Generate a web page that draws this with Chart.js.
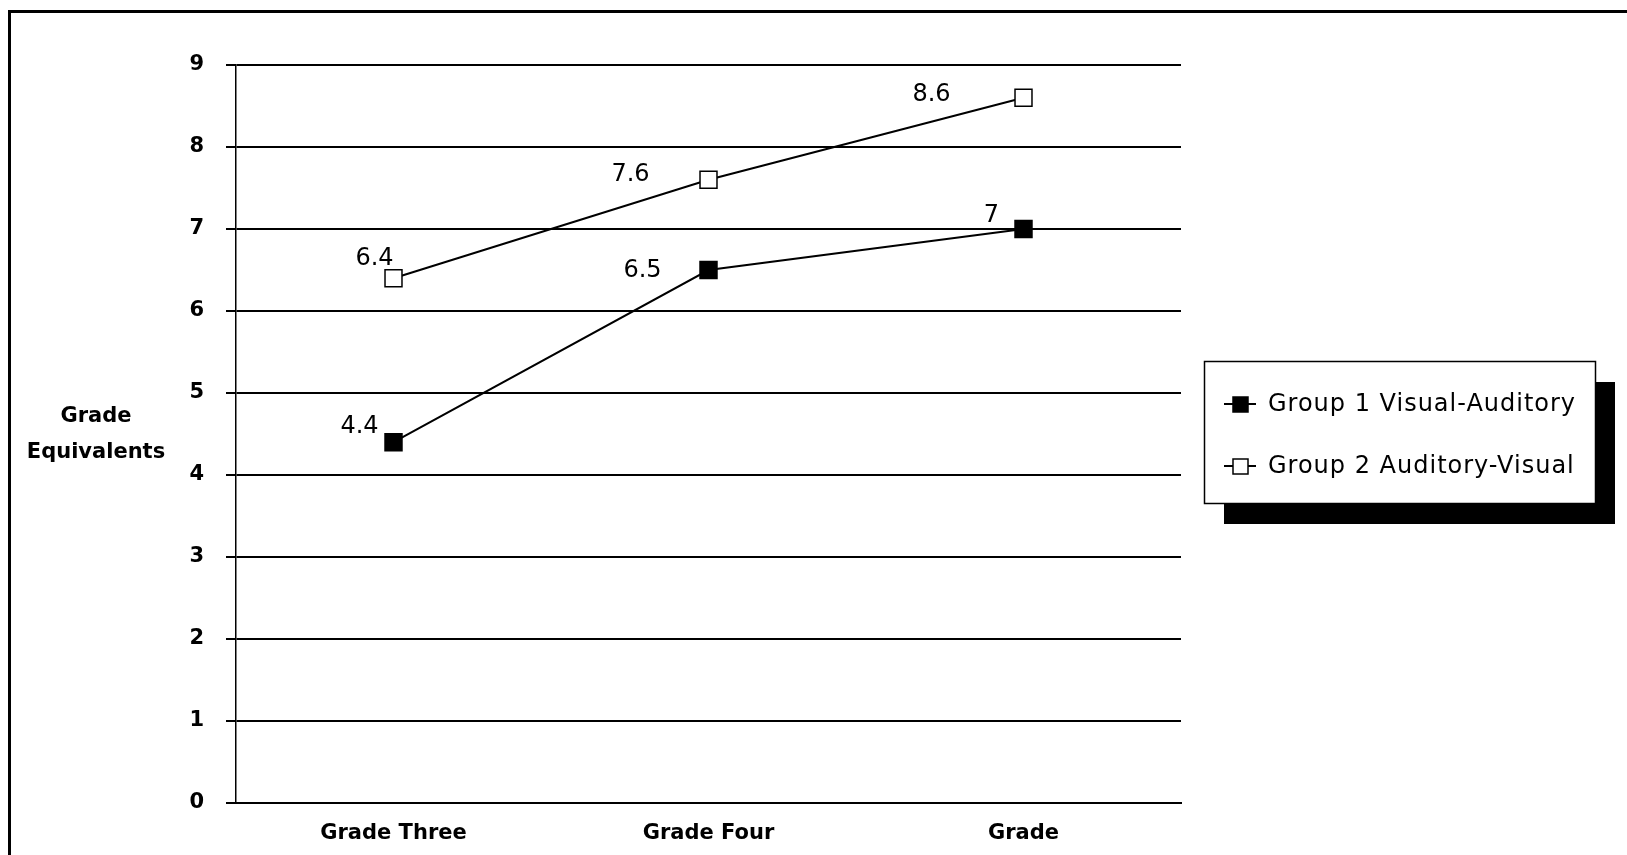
<!DOCTYPE html>
<html>
<head>
<meta charset="utf-8">
<script src="https://cdn.jsdelivr.net/npm/chart.js@4/dist/chart.umd.min.js"></script>
<style>
  html, body { margin: 0; padding: 0; background: #fff; }
  #wrap { position: relative; width: 1627px; height: 855px; }
  canvas { display: block; }
</style>
</head>
<body>
<div id="wrap"><canvas id="c" width="1627" height="855"></canvas></div>
<script>
const categories = ["Grade Three", "Grade Four", "Grade"];
const group1Values = [4.4, 6.5, 7];
const group2Values = [6.4, 7.6, 8.6];
const seriesNames = ["Group 1 Visual-Auditory", "Group 2 Auditory-Visual"];
const yTicks = [0, 1, 2, 3, 4, 5, 6, 7, 8, 9];
const yTitleLines = ["Grade", "Equivalents"];

// label placement (style only): offsets of value labels from their points
const labelOffsets = [
  [[-34, -15], [-66, 1], [-32, -13]],
  [[-19, -19], [-78, -5], [-92, -3]]
];

const boxPlugin = {
  id: 'decor',
  beforeDraw(chart) {
    const ctx = chart.ctx;
    ctx.save();
    ctx.fillStyle = '#fff';
    ctx.fillRect(0, 0, chart.width, chart.height);
    ctx.strokeStyle = '#000';
    ctx.lineWidth = 3;
    ctx.strokeRect(9.5, 11.5, 1700, 900);
    ctx.restore();
  },
  afterDraw(chart) {
    const ctx = chart.ctx;
    ctx.save();
    // y title
    ctx.fillStyle = '#000';
    ctx.font = 'bold 21px "DejaVu Sans", sans-serif';
    ctx.textAlign = 'center';
    ctx.textBaseline = 'middle';
    ctx.fillText(yTitleLines[0], 96, 417);
    ctx.fillText(yTitleLines[1], 96, 453);

    // value labels
    ctx.font = '24px "DejaVu Sans", sans-serif';
    chart.data.datasets.forEach((ds, di) => {
      const meta = chart.getDatasetMeta(di);
      meta.data.forEach((pt, i) => {
        const off = labelOffsets[di][i];
        ctx.fillText(String(ds.data[i]), pt.x + off[0], pt.y + off[1]);
      });
    });

    // legend with shadow
    const L = 1204, T = 361, R = 1595, B = 503;
    ctx.fillStyle = '#000';
    ctx.fillRect(L + 20, T + 21, R - L, B - T);
    ctx.fillStyle = '#fff';
    ctx.fillRect(L, T, R - L, B - T);
    ctx.strokeStyle = '#000';
    ctx.lineWidth = 1.5;
    ctx.strokeRect(L + 0.5, T + 0.5, R - L, B - T);
    const ys = [404, 466];
    ctx.font = '24px "DejaVu Sans", sans-serif';
    try { ctx.letterSpacing = '1px'; } catch (e) {}
    ctx.textAlign = 'left';
    chart.data.datasets.forEach((ds, di) => {
      const y = ys[di];
      ctx.strokeStyle = '#000';
      ctx.lineWidth = 2;
      ctx.beginPath();
      ctx.moveTo(1224, y); ctx.lineTo(1256, y);
      ctx.stroke();
      ctx.fillStyle = ds.pointBackgroundColor;
      ctx.fillRect(1233, y - 7, 15, 15);
      ctx.lineWidth = 1.5;
      ctx.strokeRect(1233, y - 7, 15, 15);
      ctx.fillStyle = '#000';
      ctx.fillText(ds.label, 1268, y + 1);
    });
    ctx.restore();
  }
};

new Chart(document.getElementById('c'), {
  type: 'line',
  data: {
    labels: categories,
    datasets: [
      {
        label: seriesNames[0],
        data: group1Values,
        borderColor: '#000',
        borderWidth: 2,
        pointStyle: 'rect',
        pointRadius: 12,
        pointBackgroundColor: '#000',
        pointBorderColor: '#000',
        pointBorderWidth: 1.5,
        tension: 0
      },
      {
        label: seriesNames[1],
        data: group2Values,
        borderColor: '#000',
        borderWidth: 2,
        pointStyle: 'rect',
        pointRadius: 12,
        pointBackgroundColor: '#fff',
        pointBorderColor: '#000',
        pointBorderWidth: 1.5,
        tension: 0
      }
    ]
  },
  options: {
    responsive: false,
    animation: false,
    devicePixelRatio: 1,
    layout: { padding: { left: 0, top: 65, right: 446, bottom: 0 } },
    plugins: { legend: { display: false }, tooltip: { enabled: false } },
    scales: {
      x: {
        type: 'category',
        offset: true,
        grid: { display: false, drawTicks: false },
        border: { display: true, color: '#000', width: 2 },
        ticks: {
          color: '#000',
          padding: 18,
          font: { family: '"DejaVu Sans", sans-serif', size: 21, weight: 'bold' },
          maxRotation: 0
        },
        afterFit(scale) { scale.height = 52; }
      },
      y: {
        min: 0,
        max: 9,
        afterBuildTicks(scale) { scale.ticks = yTicks.map(v => ({ value: v })); },
        grid: { color: '#000', lineWidth: 2, drawTicks: true, tickLength: 10, tickColor: '#000', tickWidth: 2 },
        border: { display: true, color: '#000', width: 1.5 },
        ticks: {
          color: '#000',
          padding: 22,
          font: { family: '"DejaVu Sans", sans-serif', size: 21, weight: 'bold' }
        },
        afterFit(scale) { scale.width = 236; }
      }
    }
  },
  plugins: [boxPlugin]
});
</script>
</body>
</html>
